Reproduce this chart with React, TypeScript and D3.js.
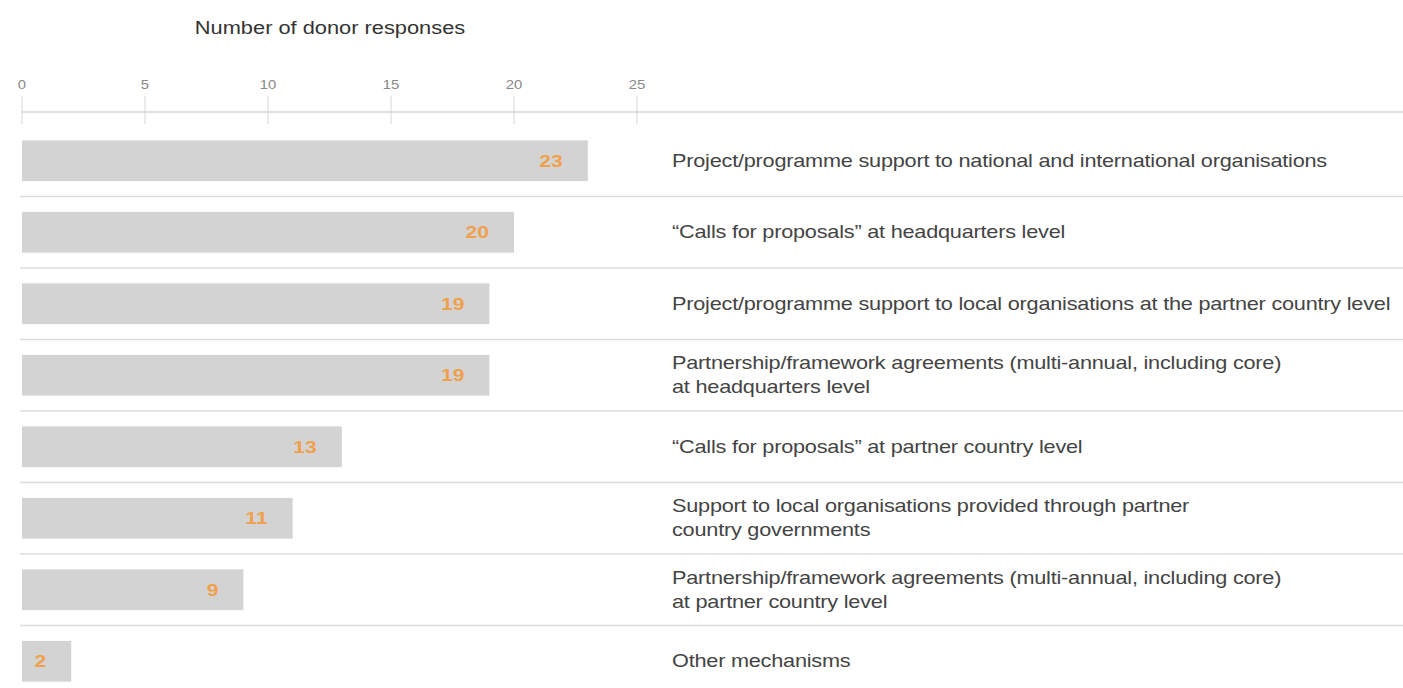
import React from "react";
import * as d3 from "d3";

const categories: string[][] = [
  ["Project/programme support to national and international organisations"],
  ["\u201cCalls for proposals\u201d at headquarters level"],
  ["Project/programme support to local organisations at the partner country level"],
  ["Partnership/framework agreements (multi-annual, including core)", "at headquarters level"],
  ["\u201cCalls for proposals\u201d at partner country level"],
  ["Support to local organisations provided through partner", "country governments"],
  ["Partnership/framework agreements (multi-annual, including core)", "at partner country level"],
  ["Other mechanisms"],
];
const values: number[] = [23, 20, 19, 19, 13, 11, 9, 2];
const tickValues: number[] = [0, 5, 10, 15, 20, 25];
const axisTitle = "Number of donor responses";

const W = 1403;
const H = 688;
const FONT = "'Liberation Sans', Arial, Helvetica, sans-serif";
const SX = 1.24;

function T(props: any) {
  const { x, y, children, ...rest } = props;
  return (
    <text transform={`translate(${x},${y}) scale(${SX},1)`} fontFamily={FONT} {...rest}>
      {children}
    </text>
  );
}

export default function App() {
  const x = d3.scaleLinear().domain([0, 25]).range([22, 637]);
  const idx = values.map((_, i) => String(i));
  const y = d3.scaleBand().domain(idx).range([125, 697]).paddingInner(0.43).paddingOuter(0.215);
  const step = y.step();
  const bw = y.bandwidth();

  return (
    <div style={{ position: "absolute", left: 0, top: 0 }}>
      <svg width={W} height={H} style={{ display: "block", background: "#fff" }}>
        <T x={330} y={34} textAnchor="middle" fontSize={17.6} fill="#333">
          {axisTitle}
        </T>
        {tickValues.map((t) => (
          <g key={t}>
            <T x={x(t)} y={89} textAnchor="middle" fontSize={12} fill="#888">
              {t}
            </T>
            <line x1={x(t)} x2={x(t)} y1={96} y2={124} stroke="#d6d6d6" strokeWidth={1} />
          </g>
        ))}
        <line x1={x(0)} x2={W} y1={112} y2={112} stroke="#d6d6d6" strokeWidth={1.5} />
        {values.map((v, i) => {
          const y0 = y(String(i)) as number;
          const cy = y0 + bw / 2;
          const sepY = y0 + bw + (step - bw) / 2;
          const lines = categories[i];
          return (
            <g key={i}>
              <rect x={x(0)} y={y0} width={x(v) - x(0)} height={bw} fill="#d3d3d3" />
              <T
                x={x(v) - 25}
                y={cy + 6}
                textAnchor="end"
                fontSize={17}
                fontWeight="bold"
                fill="#f0a04b"
              >
                {v}
              </T>
              {i < values.length - 1 && (
                <line x1={x(0) - 2} x2={W} y1={sepY} y2={sepY} stroke="#dcdcdc" strokeWidth={1.5} />
              )}
              {lines.map((ln, k) => (
                <T
                  key={k}
                  x={672}
                  y={cy + 6 + (k - (lines.length - 1) / 2) * 24}
                  fontSize={17.5}
                  fill="#444"
                  letterSpacing={-0.18}
                >
                  {ln}
                </T>
              ))}
            </g>
          );
        })}
      </svg>
    </div>
  );
}
